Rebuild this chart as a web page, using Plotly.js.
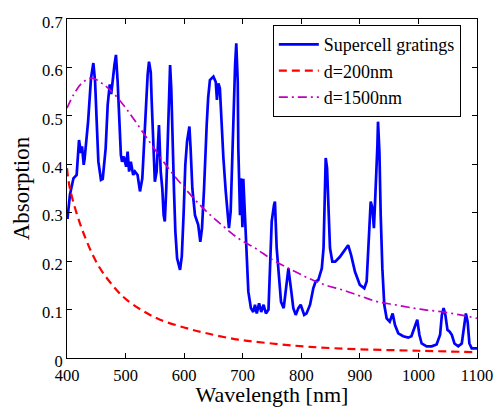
<!DOCTYPE html>
<html>
<head>
<meta charset="utf-8">
<script src="https://cdn.plot.ly/plotly-3.0.1.min.js"></script>
<style>
html,body{margin:0;padding:0;background:#fff;}
#chart{width:496px;height:407px;}
</style>
</head>
<body>
<div id="chart"></div>
<script>
// Supercell gratings (blue)
var superWl = [400,401,405,411,416.5,420.5,424,425.7,428.5,430,436,441,445,448,450.7,453.5,458,461,466,469.5,473,475.5,481,483.6,486.5,489,492,494,497,501,503.5,506,509,513,516,520.5,524.6,528.6,532,535,537.7,540,543,544.6,547.4,550,553,555,557,560,562.7,565,567,569.5,572,573.6,576,578,580.4,582.7,585,588,593,596,599,602,605,609,611,614,618.5,624,627.6,630.5,634,635.6,638.5,641,644,650,654,656,658.5,661,664,667,671,674.4,676.5,679.4,682,684.6,687,689,691.5,692.5,695.4,697,699.5,701,704,706.8,709.6,714,718,721,724,728,731.6,735.6,739.6,744,746.6,749.5,753.4,755,758,761,765.4,770,774,778,783,786.4,790.5,795,799,805,809,815,820.5,824.5,829,835,838,840,841.7,844,846.5,849,853,858,866,873,880,885,891.7,900,907.6,911.6,915.6,918.5,921.4,924,926,928.4,930,931,933.4,935.6,938.4,941.7,945.7,951,956,960,965.6,974,982.6,988,993,998,1001.6,1005.5,1014,1022.6,1031,1037,1040,1043,1046,1049.6,1053,1057,1061.5,1068,1074,1077.8,1081,1084,1087,1091,1100];
var superAbs = [0.29,0.29,0.337,0.371,0.378,0.45,0.423,0.437,0.399,0.41,0.488,0.578,0.609,0.57,0.488,0.406,0.368,0.37,0.433,0.523,0.565,0.545,0.605,0.626,0.57,0.502,0.419,0.405,0.416,0.395,0.426,0.385,0.405,0.378,0.385,0.378,0.344,0.371,0.447,0.537,0.585,0.612,0.59,0.53,0.433,0.364,0.385,0.447,0.481,0.385,0.35,0.295,0.282,0.35,0.468,0.55,0.605,0.557,0.433,0.344,0.261,0.206,0.182,0.21,0.295,0.399,0.447,0.478,0.433,0.35,0.295,0.275,0.24,0.268,0.35,0.406,0.481,0.537,0.574,0.581,0.57,0.533,0.567,0.557,0.481,0.413,0.344,0.289,0.268,0.302,0.413,0.516,0.605,0.65,0.57,0.433,0.295,0.371,0.27,0.37,0.295,0.213,0.137,0.103,0.095,0.11,0.092,0.113,0.095,0.11,0.092,0.1,0.185,0.282,0.316,0.323,0.227,0.178,0.116,0.103,0.145,0.185,0.137,0.103,0.089,0.103,0.11,0.089,0.092,0.11,0.144,0.158,0.161,0.185,0.227,0.337,0.413,0.392,0.31,0.227,0.199,0.199,0.209,0.22,0.233,0.213,0.178,0.151,0.144,0.158,0.261,0.323,0.31,0.268,0.323,0.385,0.44,0.488,0.426,0.295,0.185,0.11,0.082,0.075,0.092,0.068,0.051,0.045,0.042,0.045,0.06,0.079,0.048,0.03,0.024,0.024,0.028,0.048,0.089,0.103,0.089,0.058,0.055,0.048,0.03,0.024,0.03,0.068,0.092,0.075,0.03,0.02,0.02];

// d=200nm (red dashed)
var d200Wl = [400,405,425,453,482,502,530,559,600,638.5,692,750,815,900,1000,1100];
var d200Abs = [0.392,0.35,0.268,0.192,0.144,0.12,0.097,0.079,0.063,0.051,0.038,0.03,0.023,0.018,0.015,0.012];

// d=1500nm (magenta dash-dot)
var d1500Wl = [400,411,425,442,460,479,496,513,544.6,573,601.5,632.7,664,692.5,721,752,783.6,812,840.5,872,903,931,960,991,1014,1043,1071.5,1100];
var d1500Abs = [0.516,0.543,0.567,0.578,0.567,0.547,0.523,0.495,0.44,0.392,0.35,0.309,0.275,0.247,0.227,0.202,0.182,0.165,0.151,0.14,0.127,0.116,0.11,0.103,0.099,0.095,0.089,0.082];

var xTicks = [400,500,600,700,800,900,1000,1100];
var yTicks = [0,0.1,0.2,0.3,0.4,0.5,0.6,0.7];

var chartTraces = [
  {x: superWl, y: superAbs, name: 'Supercell gratings', mode: 'lines', legendgroup: 'a',
   line: {color: '#0000ff', width: 2.7}},
  {x: d200Wl, y: d200Abs, name: 'd=200nm', mode: 'lines', legendgroup: 'b',
   line: {color: '#ff0000', width: 2.2, dash: '8px,5px', shape: 'spline'}},
  {x: d1500Wl, y: d1500Abs, name: 'd=1500nm', mode: 'lines', legendgroup: 'c',
   line: {color: '#c000c0', width: 1.7, dash: '9px,4px,2px,4px', shape: 'spline'}}
];

var chartLayout = {
  width: 496, height: 407,
  margin: {l: 67, r: 19, t: 19, b: 49},
  paper_bgcolor: '#ffffff', plot_bgcolor: '#ffffff',
  font: {family: 'Liberation Serif', size: 16, color: '#000000'},
  showlegend: true,
  legend: {x: 0.502, y: 0.982, xanchor: 'left', yanchor: 'top',
    bordercolor: '#000000', borderwidth: 1, bgcolor: '#ffffff', itemwidth: 40,
    font: {family: 'Liberation Serif', size: 18, color: '#000000'}, tracegroupgap: 0},
  xaxis: {range: [400, 1100], tickvals: xTicks, ticktext: xTicks.map(String),
    ticks: 'inside', ticklen: 5, tickcolor: '#000000', showline: true, linecolor: '#000000', linewidth: 1,
    mirror: 'ticks', showgrid: false, zeroline: false, ticklabelstandoff: 2,
    tickfont: {family: 'Liberation Serif', size: 16.5, color: '#000000'},
    title: {text: 'Wavelength [nm]', font: {family: 'Liberation Serif', size: 22, color: '#000000'}, standoff: 2}},
  yaxis: {range: [0, 0.7], tickvals: yTicks, ticktext: yTicks.map(String),
    ticks: 'inside', ticklen: 5, tickcolor: '#000000', showline: true, linecolor: '#000000', linewidth: 1,
    mirror: 'ticks', showgrid: false, zeroline: false, ticklabelshift: 3,
    tickfont: {family: 'Liberation Serif', size: 16.5, color: '#000000'},
    title: {text: 'Absorption', font: {family: 'Liberation Serif', size: 23, color: '#000000'}, standoff: 6}}
};

Plotly.newPlot('chart', chartTraces, chartLayout, {displayModeBar: false});
</script>
</body>
</html>
